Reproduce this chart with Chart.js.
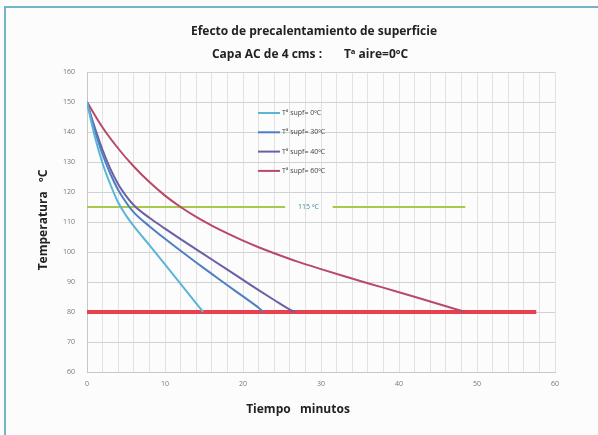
<!DOCTYPE html>
<html>
<head>
<meta charset="utf-8">
<script src="https://cdn.jsdelivr.net/npm/chart.js@4"></script>
<style>
  html, body { margin: 0; padding: 0; background: #fcfcfc; }
  #wrap { position: relative; width: 598px; height: 435px; }
  #marco { position: absolute; left: 4px; top: 6px; right: 0; bottom: 0;
           border-top: 2px solid #72b6c6; border-left: 2px solid #72b6c6; }
  canvas { position: absolute; left: 0; top: 0; }
</style>
</head>
<body>
<div id="wrap">
  <div id="marco"></div>
  <canvas id="grafico" width="598" height="435"></canvas>
</div>
<script>
// ---- datos ----
var titulo1 = 'Efecto de precalentamiento de superficie';
var titulo2 = 'Capa AC de 4 cms :       T\u00aa aire=0\u00baC';
var tituloY = 'Temperatura   \u00baC';
var tituloX = 'Tiempo   minutos';

var leyenda = ['T\u00aa supf= 0\u00baC', 'T\u00aa supf= 30\u00baC', 'T\u00aa supf= 40\u00baC', 'T\u00aa supf= 60\u00baC'];

// Tª supf = 0ºC
var tiempo0 = [0, 0.5, 1, 2, 3, 4, 5, 6, 8, 10, 12, 14, 14.9];
var temp0 = [150, 144, 138.5, 129.5, 122.5, 116.5, 112.2, 108.6, 102.3, 95.9, 89.4, 82.9, 80];

// Tª supf = 30ºC
var tiempo30 = [0, 0.5, 1, 2, 3, 4, 5, 6, 8, 10, 12, 14, 16, 18, 20, 22, 22.6];
var temp30 = [150, 145, 140.5, 132.5, 126, 120.7, 116.6, 113.2, 108.6, 104.4, 100.4, 96.5, 92.7, 88.9, 85.2, 81.4, 80];

// Tª supf = 40ºC
var tiempo40 = [0, 0.5, 1, 2, 3, 4, 5, 6, 8, 10, 12, 14, 16, 18, 20, 22, 24, 26, 26.7];
var temp40 = [150, 145.5, 141.5, 134, 127.7, 122.6, 118.7, 115.6, 111.4, 107.8, 104.3, 100.9, 97.5, 94.1, 90.7, 87.3, 84, 80.8, 80];

// Tª supf = 60ºC
var tiempo60 = [0, 2, 4, 6, 8, 10, 12, 14, 16, 18, 20, 22, 24, 27, 30, 33, 36, 40, 44, 48.5];
var temp60 = [150, 141.5, 134.5, 128.5, 123.3, 118.8, 115, 111.7, 108.8, 106.2, 103.8, 101.6, 99.6, 96.8, 94.3, 91.9, 89.6, 86.6, 83.5, 80];

// linea de 115 ºC (con hueco para la etiqueta) y linea de 80 ºC
var tiempoRef115 = [0, 25.4, null, 31.5, 48.5];
var tempRef115 = 115;
var etiquetaRef115 = '115 \u00baC';
var tiempoEtiqueta115 = 28.4;
var tiempoRef80 = [0, 57.6];
var tempRef80 = 80;

var ejeX = { min: 0, max: 60, paso: 2, pasoEtiqueta: 10 };
var ejeY = { min: 60, max: 160, paso: 10 };

// ---- helpers ----
function puntos(xs, ys) {
    return xs.map(function(x, i) { return { x: x, y: ys[i] }; });
}

function constante(xs, v) {
    return xs.map(function(x) { return x === null ? { x: null, y: null } : { x: x, y: v }; });
}

var colores = ['#5ab5d6', '#4f7fc2', '#6c5fa6', '#b84a68'];
var FUENTE = '"Open Sans", "Liberation Sans", sans-serif';

// titulos, leyenda y etiqueta de referencia
var decoracion = {
    id: 'decoracion',
    afterDraw: function(chart) {
        var ctx = chart.ctx;
        var sx = chart.scales.x, sy = chart.scales.y;
        ctx.save();

        ctx.fillStyle = '#222';
        ctx.textAlign = 'center';
        ctx.textBaseline = 'middle';
        ctx.font = 'bold 12px ' + FUENTE;
        ctx.fillText(titulo1, 314, 32);
        ctx.fillText(titulo2, 310, 55);
        ctx.fillText(tituloX, 298, 410);

        ctx.save();
        ctx.translate(44, 220);
        ctx.rotate(-Math.PI / 2);
        ctx.fillText(tituloY, 0, 0);
        ctx.restore();

        // leyenda dentro del area
        ctx.font = '7px ' + FUENTE;
        ctx.textAlign = 'left';
        for (var i = 0; i < leyenda.length; i++) {
            var y = 113 + i * 19.3;
            ctx.strokeStyle = colores[i];
            ctx.lineWidth = 2;
            ctx.beginPath();
            ctx.moveTo(258, y);
            ctx.lineTo(280, y);
            ctx.stroke();
            ctx.fillStyle = '#444';
            ctx.fillText(leyenda[i], 282, y);
        }

        // etiqueta 115 ºC
        ctx.fillStyle = '#3f8a9a';
        ctx.textAlign = 'center';
        ctx.fillText(etiquetaRef115, sx.getPixelForValue(tiempoEtiqueta115), sy.getPixelForValue(tempRef115));

        ctx.restore();
    }
};

var series = [tiempo0, tiempo30, tiempo40, tiempo60];
var temps = [temp0, temp30, temp40, temp60];
var datasets = series.map(function(xs, i) {
    return {
        label: leyenda[i],
        data: puntos(xs, temps[i]),
        borderColor: colores[i],
        borderWidth: 2,
        pointRadius: 0,
        cubicInterpolationMode: 'monotone',
        fill: false
    };
});

datasets.push({
    label: etiquetaRef115,
    data: constante(tiempoRef115, tempRef115),
    borderColor: '#a9c84e',
    borderWidth: 2,
    pointRadius: 0,
    spanGaps: false
});
datasets.push({
    label: '80',
    data: constante(tiempoRef80, tempRef80),
    borderColor: '#e8404f',
    borderWidth: 4,
    pointRadius: 0
});

new Chart(document.getElementById('grafico'), {
    type: 'line',
    data: { datasets: datasets },
    plugins: [decoracion],
    options: {
        responsive: false,
        animation: false,
        parsing: false,
        layout: { padding: { left: 0, top: 72, right: 43, bottom: 0 } },
        plugins: { legend: { display: false }, tooltip: { enabled: false } },
        scales: {
            x: {
                type: 'linear',
                min: ejeX.min,
                max: ejeX.max,
                afterFit: function(s) { s.height = 63; },
                grid: { color: '#e2e2e2', lineWidth: 1, drawTicks: false },
                border: { color: '#c8c8c8' },
                ticks: {
                    stepSize: ejeX.paso,
                    autoSkip: false,
                    maxRotation: 0,
                    padding: 8,
                    color: '#777',
                    font: { size: 7, family: FUENTE },
                    callback: function(v) { return v % ejeX.pasoEtiqueta === 0 ? String(v) : ''; }
                }
            },
            y: {
                min: ejeY.min,
                max: ejeY.max,
                afterFit: function(s) { s.width = 87; },
                grid: { color: '#d2d2d2', lineWidth: 1, drawTicks: false },
                border: { color: '#c8c8c8' },
                ticks: {
                    stepSize: ejeY.paso,
                    padding: 12,
                    color: '#777',
                    font: { size: 7, family: FUENTE }
                }
            }
        }
    }
});
</script>
</body>
</html>
